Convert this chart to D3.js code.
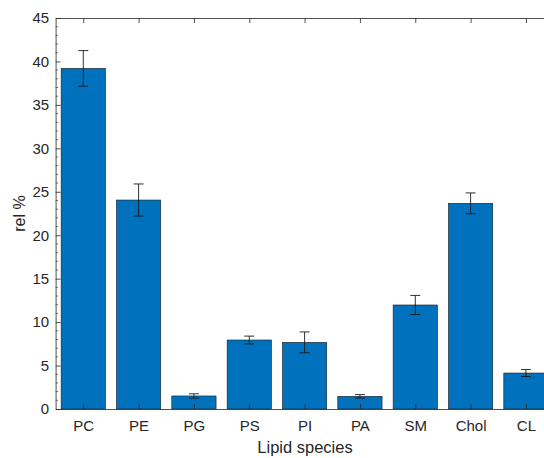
<!DOCTYPE html>
<html>
<head>
<meta charset="utf-8">
<script src="https://cdn.jsdelivr.net/npm/d3@7"></script>
<style>
  body { margin: 0; background: #fff; }
  text { font-family: "Liberation Sans", Arial, sans-serif; fill: #262626; }
</style>
</head>
<body>
<div id="main"></div>
<script>
// data
const species = ['PC', 'PE', 'PG', 'PS', 'PI', 'PA', 'SM', 'Chol', 'CL'];
const relPercent = [39.2, 24.05, 1.5, 7.94, 7.67, 1.46, 11.97, 23.67, 4.14];
const errors = [2.05, 1.85, 0.25, 0.45, 1.2, 0.2, 1.1, 1.2, 0.4];
const yTicks = [0, 5, 10, 15, 20, 25, 30, 35, 40, 45];

// layout
const svgWidth = 544;
const svgHeight = 458;
const margin = { t: 18, l: 55.6, b: 49 };
const plotRight = 553.6; // axes box runs past the window edge
const axisColor = '#262626';

const svg = d3.select('#main')
  .append('svg')
  .attr('width', svgWidth)
  .attr('height', svgHeight);

const x = d3.scaleLinear()
  .domain([0.5, species.length + 0.5])
  .range([margin.l, plotRight]);

const y = d3.scaleLinear()
  .domain([0, 45])
  .range([svgHeight - margin.b, margin.t]);

const barW = (x(1) - x(0)) * 0.8;

// bars
svg.append('g')
  .selectAll('rect')
  .data(relPercent)
  .enter().append('rect')
  .attr('x', (d, i) => x(i + 1) - barW / 2)
  .attr('y', d => y(d))
  .attr('width', barW)
  .attr('height', d => y(0) - y(d))
  .attr('fill', '#0072BD')
  .attr('stroke', '#1a1a1a')
  .attr('stroke-width', 0.6);

// error bars
const capW = 5;
const eb = svg.append('g')
  .attr('stroke', '#1a1a1a')
  .attr('stroke-width', 0.9)
  .selectAll('g')
  .data(relPercent)
  .enter().append('g');

eb.append('line')
  .attr('x1', (d, i) => x(i + 1))
  .attr('x2', (d, i) => x(i + 1))
  .attr('y1', (d, i) => y(d - errors[i]))
  .attr('y2', (d, i) => y(d + errors[i]));
eb.append('line')
  .attr('x1', (d, i) => x(i + 1) - capW)
  .attr('x2', (d, i) => x(i + 1) + capW)
  .attr('y1', (d, i) => y(d + errors[i]))
  .attr('y2', (d, i) => y(d + errors[i]));
eb.append('line')
  .attr('x1', (d, i) => x(i + 1) - capW)
  .attr('x2', (d, i) => x(i + 1) + capW)
  .attr('y1', (d, i) => y(d - errors[i]))
  .attr('y2', (d, i) => y(d - errors[i]));

// axes, MATLAB style: ticks pointing inward, box on
const xTickVals = d3.range(1, species.length + 1);

const xAxis = d3.axisBottom(x)
  .tickValues(xTickVals)
  .tickFormat((d, i) => species[i])
  .tickSizeInner(-5)
  .tickSizeOuter(0)
  .tickPadding(11.5);

const gX = svg.append('g')
  .attr('transform', `translate(0,${y(0)})`)
  .call(xAxis);

const xTop = d3.axisTop(x)
  .tickValues(xTickVals)
  .tickFormat('')
  .tickSizeInner(-5)
  .tickSizeOuter(0);

const gXTop = svg.append('g')
  .attr('transform', `translate(0,${y(45)})`)
  .call(xTop);

const yAxis = d3.axisLeft(y)
  .tickValues(yTicks)
  .tickFormat(d3.format('d'))
  .tickSizeInner(-5)
  .tickSizeOuter(0)
  .tickPadding(6.5);

const gY = svg.append('g')
  .attr('transform', `translate(${margin.l},0)`)
  .call(yAxis);

// minor ticks on the y axis
svg.append('g')
  .selectAll('line')
  .data(d3.range(0, 46).filter(v => v % 5 !== 0))
  .enter().append('line')
  .attr('x1', margin.l)
  .attr('x2', margin.l + 2.5)
  .attr('y1', d => y(d))
  .attr('y2', d => y(d))
  .attr('stroke', axisColor)
  .attr('stroke-width', 0.6);

[gX, gXTop, gY].forEach(g => {
  g.select('.domain').attr('stroke', axisColor).attr('stroke-width', 0.8);
  g.selectAll('.tick line').attr('stroke', axisColor).attr('stroke-width', 0.8);
  g.selectAll('.tick text')
    .style('font-family', '"Liberation Sans", Arial, sans-serif')
    .style('font-size', '15px')
    .attr('fill', axisColor);
});

// axis labels
svg.append('text')
  .attr('x', 305)
  .attr('y', 453)
  .attr('text-anchor', 'middle')
  .style('font-size', '16.5px')
  .text('Lipid species');

svg.append('text')
  .attr('transform', `translate(25,213.5) rotate(-90)`)
  .attr('text-anchor', 'middle')
  .style('font-size', '16px')
  .text('rel %');
</script>
</body>
</html>
